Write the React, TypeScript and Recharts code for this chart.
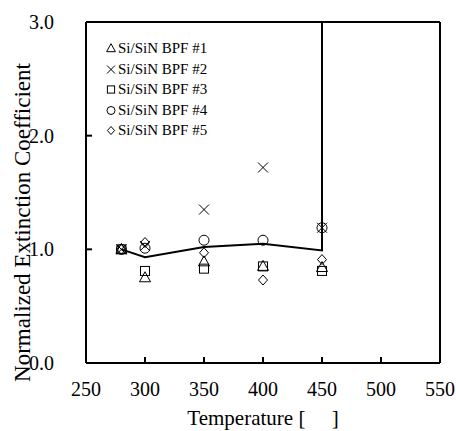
import React from "react";
import { ComposedChart, Scatter, Line, XAxis, YAxis, Legend, ReferenceLine } from "recharts";

const FONT = "'Liberation Serif', 'Times New Roman', serif";
const INK = "#000";

const X_TICKS = [250, 300, 350, 400, 450, 500, 550];
const Y_TICKS = [0, 1, 2, 3];

const bpf1 = [
  { t: 280, k: 1.0 },
  { t: 300, k: 0.75 },
  { t: 350, k: 0.89 },
  { t: 400, k: 0.85 },
  { t: 450, k: 0.84 },
];
const bpf2 = [
  { t: 280, k: 1.0 },
  { t: 300, k: 1.03 },
  { t: 350, k: 1.35 },
  { t: 400, k: 1.72 },
  { t: 450, k: 1.19 },
];
const bpf3 = [
  { t: 280, k: 1.0 },
  { t: 300, k: 0.81 },
  { t: 350, k: 0.83 },
  { t: 400, k: 0.85 },
  { t: 450, k: 0.81 },
];
const bpf4 = [
  { t: 280, k: 1.0 },
  { t: 300, k: 1.01 },
  { t: 350, k: 1.08 },
  { t: 400, k: 1.08 },
  { t: 450, k: 1.19 },
];
const bpf5 = [
  { t: 280, k: 1.0 },
  { t: 300, k: 1.06 },
  { t: 350, k: 0.97 },
  { t: 400, k: 0.73 },
  { t: 450, k: 0.91 },
];
// average curve, shoots off the top after 450
const mean = [
  { t: 280, k: 1.0 },
  { t: 300, k: 0.93 },
  { t: 350, k: 1.02 },
  { t: 400, k: 1.05 },
  { t: 450, k: 0.99 },
  { t: 450, k: 30 },
];

type Kind = "tri" | "cross" | "square" | "circle" | "diamond";

function Mark({ kind, cx, cy, s = 1 }: { kind: Kind; cx: number; cy: number; s?: number }) {
  const p = { fill: "none", stroke: INK, strokeWidth: 1 };
  switch (kind) {
    case "tri":
      return <polygon {...p} points={`${cx},${cy - 6 * s} ${cx - 5.5 * s},${cy + 4 * s} ${cx + 5.5 * s},${cy + 4 * s}`} />;
    case "cross":
      return (
        <path {...p} d={`M${cx - 5 * s},${cy - 5 * s}L${cx + 5 * s},${cy + 5 * s}M${cx + 5 * s},${cy - 5 * s}L${cx - 5 * s},${cy + 5 * s}`} />
      );
    case "square":
      return <rect {...p} x={cx - 4.5 * s} y={cy - 4.5 * s} width={9 * s} height={9 * s} />;
    case "circle":
      return <circle {...p} cx={cx} cy={cy} r={5 * s} />;
    default:
      return <polygon {...p} points={`${cx},${cy - 5 * s} ${cx + 4.5 * s},${cy} ${cx},${cy + 5 * s} ${cx - 4.5 * s},${cy}`} />;
  }
}

const SERIES: { name: string; data: typeof bpf1; kind: Kind }[] = [
  { name: "Si/SiN BPF #1", data: bpf1, kind: "tri" },
  { name: "Si/SiN BPF #2", data: bpf2, kind: "cross" },
  { name: "Si/SiN BPF #3", data: bpf3, kind: "square" },
  { name: "Si/SiN BPF #4", data: bpf4, kind: "circle" },
  { name: "Si/SiN BPF #5", data: bpf5, kind: "diamond" },
];

function LegendBox() {
  return (
    <div style={{ fontFamily: FONT, fontSize: 15, color: INK, lineHeight: "20.5px" }}>
      {SERIES.map((s) => (
        <div key={s.name} style={{ display: "flex", alignItems: "center", whiteSpace: "nowrap" }}>
          <svg width={12} height={12} style={{ marginRight: 1 }}>
            <Mark kind={s.kind} cx={6} cy={6.5} s={0.8} />
          </svg>
          <span>{s.name}</span>
        </div>
      ))}
    </div>
  );
}

function YTitle(props: any) {
  const vb = props.viewBox || { x: 0, y: 0, width: 0, height: 0 };
  const x = vb.x + 22;
  const y = vb.y + vb.height / 2 + 30;
  return (
    <text
      x={x}
      y={y}
      transform={`rotate(-90 ${x} ${y})`}
      textAnchor="middle"
      dominantBaseline="central"
      fontFamily={FONT}
      fontSize={23}
      fill={INK}
    >
      Normalized Extinction Coefficient
    </text>
  );
}

const tickStyle = { fill: INK, fontSize: 20, fontFamily: FONT };

export default function App() {
  return (
    <div style={{ position: "absolute", left: 0, top: 0, background: "#fff" }}>
      <ComposedChart width={456} height={431} margin={{ top: 22, right: 0, bottom: 0, left: 0 }}>
        <XAxis
          type="number"
          dataKey="t"
          domain={[250, 550]}
          ticks={X_TICKS}
          interval={0}
          height={68}
          tickSize={-6}
          tickMargin={25}
          axisLine={{ stroke: INK, strokeWidth: 2 }}
          tickLine={{ stroke: INK, strokeWidth: 2 }}
          tick={tickStyle}
          label={{
            value: "Temperature [\u00a0\u00a0\u00a0\u00a0\u00a0]",
            position: "insideBottom",
            offset: 6,
            fill: INK,
            fontSize: 21,
            fontFamily: FONT,
          }}
        />
        <YAxis
          type="number"
          domain={[0, 3]}
          ticks={Y_TICKS}
          interval={0}
          allowDataOverflow
          width={86}
          tickSize={-6}
          tickMargin={38}
          axisLine={{ stroke: INK, strokeWidth: 2 }}
          tickLine={{ stroke: INK, strokeWidth: 2 }}
          tick={tickStyle}
          tickFormatter={(v: number) => v.toFixed(1)}
          label={<YTitle />}
        />
        <YAxis
          yAxisId="r"
          orientation="right"
          type="number"
          domain={[0, 3]}
          ticks={Y_TICKS}
          interval={0}
          width={16}
          tickSize={-6}
          axisLine={{ stroke: INK, strokeWidth: 2 }}
          tickLine={{ stroke: INK, strokeWidth: 2 }}
          tickFormatter={() => ""}
        />
        <ReferenceLine y={3} stroke={INK} strokeWidth={2} />
        <Line
          data={mean}
          dataKey="k"
          type="linear"
          stroke={INK}
          strokeWidth={2}
          dot={false}
          activeDot={false}
          legendType="none"
          isAnimationActive={false}
        />
        {SERIES.map((s) => (
          <Scatter
            key={s.name}
            name={s.name}
            data={s.data}
            dataKey="k"
            isAnimationActive={false}
            shape={(p: any) => <Mark kind={s.kind} cx={p.cx} cy={p.cy} />}
          />
        ))}
        <Legend
          layout="vertical"
          align="center"
          verticalAlign="middle"
          content={<LegendBox />}
          wrapperStyle={{ left: 105, top: 38, width: "auto" }}
        />
      </ComposedChart>
    </div>
  );
}
